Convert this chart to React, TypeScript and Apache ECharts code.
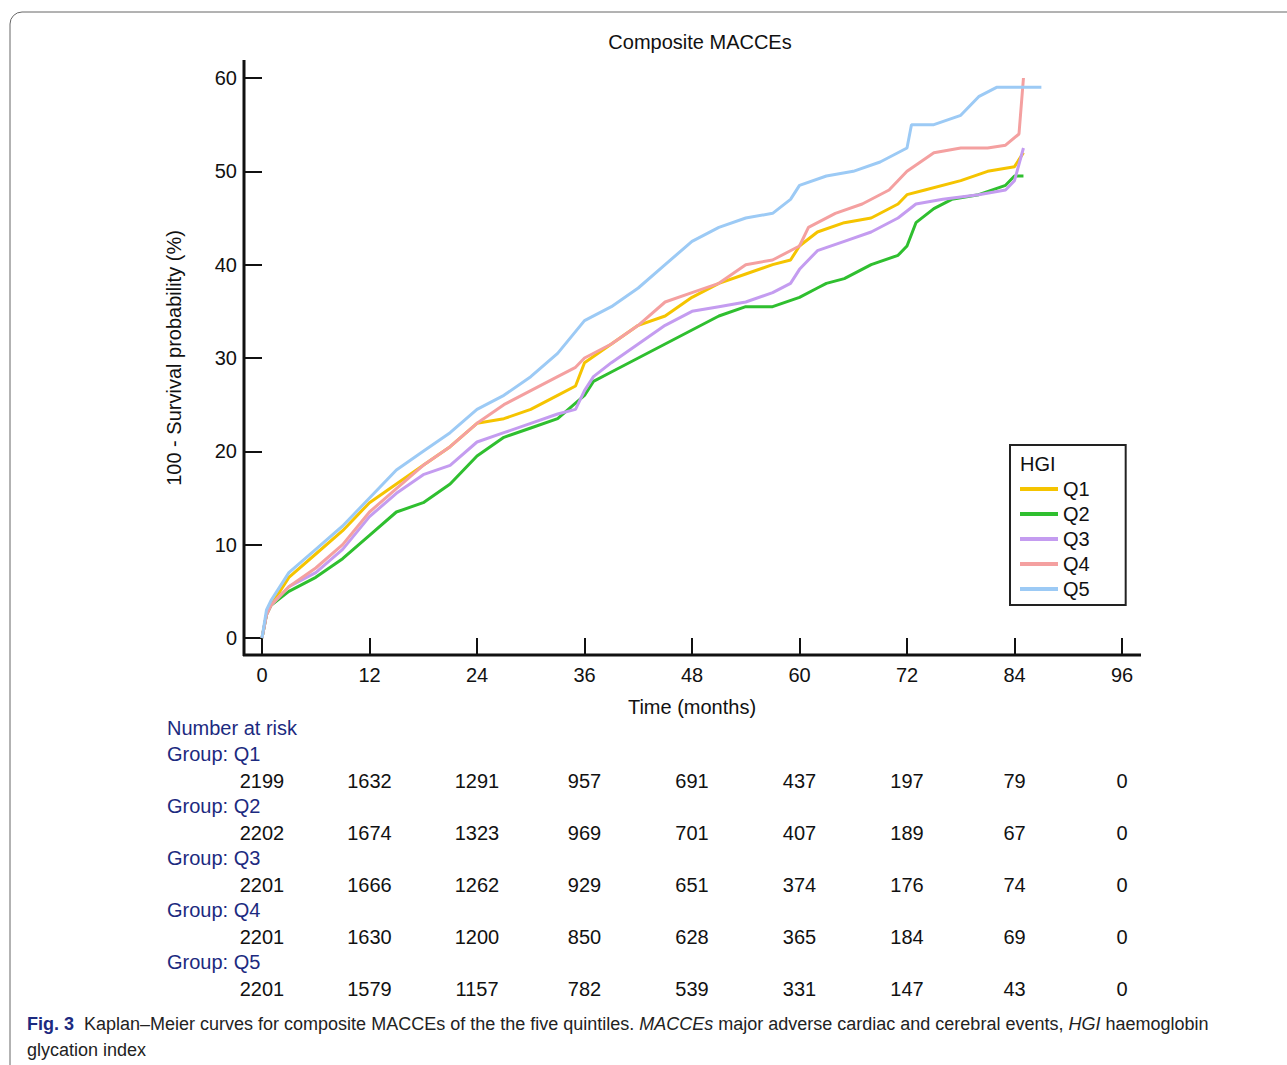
import { useEffect, useRef } from 'react'
import * as echarts from 'echarts'

const groups = ['Q1', 'Q2', 'Q3', 'Q4', 'Q5']
const colors = ['#f5c400', '#2fbf2f', '#c49cf0', '#f4a0a0', '#9ccaf5']

const q1 = [[0,0],[0.5,2.5],[1,3.5],[3,6.5],[6,9],[9,11.5],[12,14.5],[15,16.5],[18,18.5],[21,20.5],[24,23],[27,23.5],[30,24.5],[33,26],[35,27],[36,29.5],[39,31.5],[42,33.5],[45,34.5],[48,36.5],[51,38],[54,39],[57,40],[59,40.5],[60,42],[62,43.5],[65,44.5],[68,45],[71,46.5],[72,47.5],[74,48],[78,49],[81,50],[84,50.5],[85,52]]
const q2 = [[0,0],[0.5,2.5],[1,3.5],[3,5],[6,6.5],[9,8.5],[12,11],[15,13.5],[18,14.5],[21,16.5],[24,19.5],[27,21.5],[30,22.5],[33,23.5],[36,26],[37,27.5],[39,28.5],[42,30],[45,31.5],[48,33],[51,34.5],[54,35.5],[57,35.5],[60,36.5],[62,37.5],[63,38],[65,38.5],[68,40],[71,41],[72,42],[73,44.5],[75,46],[77,47],[80,47.5],[83,48.5],[84,49.5],[85,49.5]]
const q3 = [[0,0],[0.5,2.5],[1,3.5],[3,5.5],[6,7],[9,9.5],[12,13],[15,15.5],[18,17.5],[21,18.5],[24,21],[27,22],[30,23],[33,24],[35,24.5],[36,26.5],[37,28],[39,29.5],[42,31.5],[45,33.5],[48,35],[51,35.5],[54,36],[57,37],[59,38],[60,39.5],[62,41.5],[65,42.5],[68,43.5],[71,45],[73,46.5],[76,47],[80,47.5],[83,48],[84,49],[85,52.5]]
const q4 = [[0,0],[0.5,2.5],[1,3.5],[3,5.5],[6,7.5],[9,10],[12,13.5],[15,16],[18,18.5],[21,20.5],[24,23],[27,25],[30,26.5],[33,28],[35,29],[36,30],[39,31.5],[42,33.5],[45,36],[48,37],[51,38],[54,40],[57,40.5],[60,42],[61,44],[64,45.5],[67,46.5],[70,48],[72,50],[75,52],[78,52.5],[81,52.5],[83,52.8],[84.5,54],[85,60]]
const q5 = [[0,0],[0.5,3],[1,4],[3,7],[6,9.5],[9,12],[12,15],[15,18],[18,20],[21,22],[24,24.5],[27,26],[30,28],[33,30.5],[36,34],[39,35.5],[42,37.5],[45,40],[48,42.5],[51,44],[54,45],[57,45.5],[59,47],[60,48.5],[63,49.5],[66,50],[69,51],[72,52.5],[72.5,55],[75,55],[78,56],[80,58],[82,59],[84,59],[87,59]]
const curves = [q1, q2, q3, q4, q5]

const riskTimes = [0, 12, 24, 36, 48, 60, 72, 84, 96]
const atRisk = [
  [2199, 1632, 1291, 957, 691, 437, 197, 79, 0],
  [2202, 1674, 1323, 969, 701, 407, 189, 67, 0],
  [2201, 1666, 1262, 929, 651, 374, 176, 74, 0],
  [2201, 1630, 1200, 850, 628, 365, 184, 69, 0],
  [2201, 1579, 1157, 782, 539, 331, 147, 43, 0],
]

const font = 'Liberation Sans, Arial, sans-serif'
const navy = '#1c2a80'

export default function App() {
  const ref = useRef<HTMLDivElement>(null)

  useEffect(() => {
    document.body.style.margin = '0'
    if (!ref.current) return
    const chart = echarts.init(ref.current, null, { renderer: 'svg' })
    const x0 = 262
    const pxPerMonth = (1122 - 262) / 96

    const table: any[] = [
      { type: 'text', left: 167, top: 718, style: { text: 'Number at risk', fill: navy, font: `20px ${font}` } },
    ]
    groups.forEach((g, i) => {
      const gy = 744 + i * 52
      table.push({ type: 'text', left: 167, top: gy, style: { text: 'Group: ' + g, fill: navy, font: `20px ${font}` } })
      riskTimes.forEach((t, j) => {
        table.push({
          type: 'text', x: x0 + t * pxPerMonth, y: gy + 27,
          style: { text: String(atRisk[i][j]), fill: '#111', font: `20px ${font}`, align: 'center', verticalAlign: 'top' },
        })
      })
    })

    chart.setOption({
      animation: false,
      backgroundColor: '#fff',
      title: {
        text: 'Composite MACCEs', left: 695, top: 27, textAlign: 'center',
        textStyle: { fontSize: 20, fontWeight: 'normal', color: '#111', fontFamily: font },
      },
      grid: { left: 262, right: 1287 - 1122, top: 78, bottom: 1065 - 638 },
      xAxis: {
        type: 'value', min: 0, max: 96, interval: 12,
        name: 'Time (months)', nameLocation: 'middle', nameGap: 59,
        nameTextStyle: { fontSize: 20, color: '#111', fontFamily: font },
        axisLine: { show: false },
        axisTick: { length: 17, lineStyle: { color: '#111', width: 2 } },
        axisLabel: { fontSize: 20, color: '#111', fontFamily: font, margin: 27 },
        splitLine: { show: false },
      },
      yAxis: {
        type: 'value', min: 0, max: 60, interval: 10,
        name: '100 - Survival probability (%)', nameLocation: 'middle', nameGap: 78,
        nameTextStyle: { fontSize: 20, color: '#111', fontFamily: font },
        axisLine: { show: false },
        axisTick: { length: 18, lineStyle: { color: '#111', width: 2 } },
        axisLabel: { fontSize: 20, color: '#111', fontFamily: font, margin: 25 },
        splitLine: { show: false },
      },
      legend: {
        orient: 'vertical', left: 1010, top: 445,
        borderColor: '#222', borderWidth: 2, backgroundColor: '#fff',
        padding: [34, 36, 6, 10], itemGap: 5, itemWidth: 38, itemHeight: 4,
        icon: 'rect',
        textStyle: { fontSize: 20, color: '#111', fontFamily: font },
        data: groups,
      },
      series: curves.map((c, i) => ({
        name: groups[i], type: 'line', data: c, showSymbol: false,
        lineStyle: { color: colors[i], width: 3 }, itemStyle: { color: colors[i] },
      })),
      graphic: [
        { type: 'rect', shape: { x: 10, y: 12, width: 1320, height: 1100, r: 12 }, style: { fill: 'none', stroke: '#666', lineWidth: 1 }, silent: true },
        { type: 'line', shape: { x1: 244, y1: 60, x2: 244, y2: 656 }, style: { stroke: '#111', lineWidth: 3 } },
        { type: 'line', shape: { x1: 243, y1: 655, x2: 1141, y2: 655 }, style: { stroke: '#111', lineWidth: 3 } },
        { type: 'text', left: 1020, top: 454, z: 100, style: { text: 'HGI', fill: '#111', font: `20px ${font}` } },
        ...table,
        {
          type: 'text', left: 27, top: 1011,
          style: {
            text: '{b|Fig. 3}  Kaplan–Meier curves for composite MACCEs of the the five quintiles. {i|MACCEs} major adverse cardiac and cerebral events, {i|HGI} haemoglobin\nglycation index',
            fill: '#222', font: `18px ${font}`, lineHeight: 26,
            rich: {
              b: { fontWeight: 'bold', fontSize: 18, fontFamily: font, fill: '#1c2a80' },
              i: { fontStyle: 'italic', fontSize: 18, fontFamily: font },
            },
          },
        },
      ],
    })
    return () => chart.dispose()
  }, [])

  return <div ref={ref} style={{ width: 1287, height: 1065 }} />
}
